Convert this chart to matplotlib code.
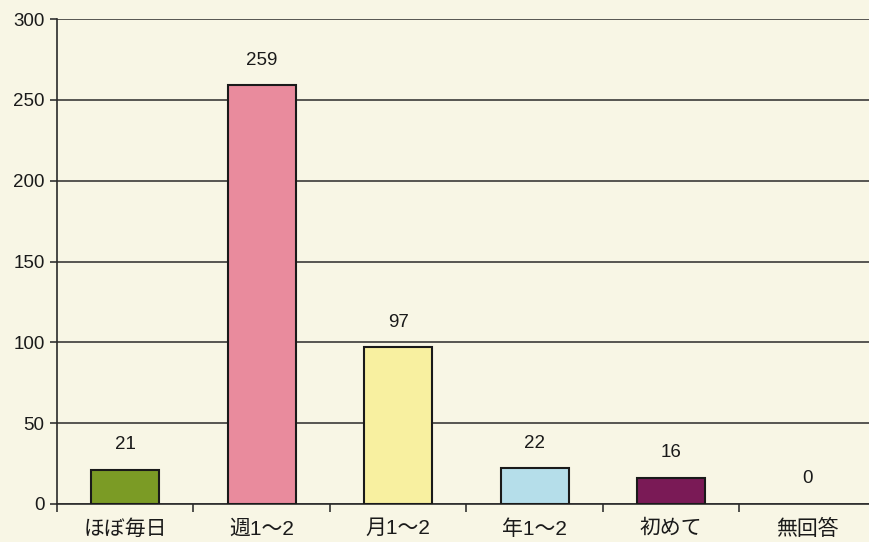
import numpy as np
import matplotlib.pyplot as plt

plt.rcParams['font.family'] = ['Liberation Sans', 'Noto Sans CJK JP', 'DejaVu Sans']

categories = ['ほぼ毎日', '週1～2', '月1～2', '年1～2', '初めて', '無回答']
counts = [21, 259, 97, 22, 16, 0]
colors = ['#7b9b25', '#e98b9d', '#f8f0a0', '#b5deea', '#7a1a56', '#cccccc']

bg = '#f8f6e5'
fig = plt.figure(figsize=(8.69, 5.42), dpi=100, facecolor=bg)
ax = fig.add_axes([57 / 869, 38 / 542, 819 / 869, 485 / 542], facecolor=bg)

x = np.arange(len(categories)) + 0.5
bars = ax.bar(x, counts, width=0.5, color=colors, edgecolor='#1a1a1a', linewidth=1.5, zorder=3)
bars[-1].set_visible(False)

for xi, v in zip(x, counts):
    ax.annotate(str(v), (xi, v), xytext=(0, 12), textcoords='offset points',
                ha='center', va='bottom', fontsize=13.5, color='#1a1a1a')

ax.set_xlim(0, len(categories))
ax.set_ylim(0, 300)
ax.set_yticks(range(0, 301, 50))
ax.set_xticks(np.arange(len(categories) + 1))
ax.set_xticklabels([])
ax.set_xticks(x, minor=True)
ax.set_xticklabels(categories, minor=True)
ax.tick_params(axis='x', which='minor', length=0, pad=11, labelsize=15, labelcolor='#1a1a1a')
ax.tick_params(axis='x', which='major', length=6, width=1.2, color='#333333', direction='out')
ax.tick_params(axis='y', length=5, width=1.2, color='#333333', labelsize=13.5, pad=4, labelcolor='#1a1a1a')

ax.grid(axis='y', color='#2a2a2a', linewidth=1.1, zorder=0)
for s in ['top', 'right']:
    ax.spines[s].set_visible(False)
for s in ['left', 'bottom']:
    ax.spines[s].set_color('#2a2a2a')
    ax.spines[s].set_linewidth(1.2)

fig.savefig('out.png', dpi=100, facecolor=bg)
